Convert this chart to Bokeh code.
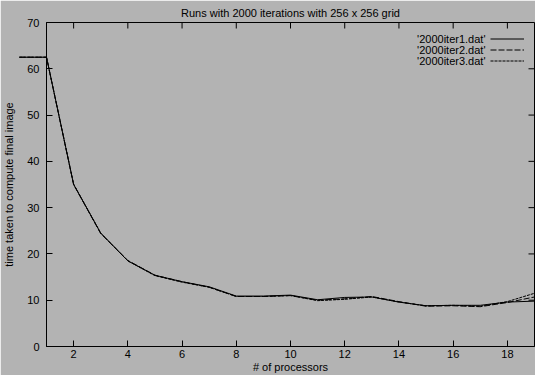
import math
from bokeh.plotting import figure
from bokeh.models import (LinearAxis, FixedTicker, Range1d, Legend, LegendItem,
                          Label, ColumnDataSource)
from bokeh.embed import file_html
from bokeh.resources import INLINE

# ---- data ----
processors = [0, 1, 2, 3, 4, 5, 6, 7, 8, 9, 10, 11, 12, 13, 14, 15, 16, 17, 18, 19]
iter1 = [62.5, 62.5, 35.0, 24.5, 18.5, 15.4, 14.0, 12.9, 10.9, 10.9, 11.1, 10.1, 10.6, 10.7, 9.6, 8.8, 8.9, 8.9, 9.6, 9.8]
iter2 = [62.5, 62.5, 35.0, 24.4, 18.6, 15.4, 14.0, 12.8, 10.8, 10.8, 11.0, 10.0, 10.3, 10.8, 9.7, 8.7, 8.8, 8.6, 9.5, 10.7]
iter3 = [62.5, 62.5, 35.1, 24.5, 18.5, 15.3, 13.9, 12.8, 10.8, 10.8, 11.0, 9.9, 10.2, 10.7, 9.6, 8.8, 8.9, 8.7, 9.7, 11.5]
series_names = ["'2000iter1.dat'", "'2000iter2.dat'", "'2000iter3.dat'"]
x_ticks = [2, 4, 6, 8, 10, 12, 14, 16, 18]
y_ticks = [0, 10, 20, 30, 40, 50, 60, 70]
x_min, x_max = 1, 19
y_min, y_max = 0, 70
title_text = "Runs with 2000 iterations with 256 x 256 grid"
x_label = "# of processors"
y_label = "time taken to compute final image"

BG = "#b3b3b3"
FONT = "Liberation Sans"
FS = "11px"

p = figure(width=535, height=375, output_backend="svg", toolbar_location=None,
           x_range=Range1d(x_min, x_max), y_range=Range1d(y_min, y_max),
           x_axis_type=None, y_axis_type=None,
           background_fill_color=BG, border_fill_color=BG,
           min_border_left=43, min_border_right=1, min_border_top=20, min_border_bottom=0)
p.outline_line_color = "black"
p.outline_line_width = 1
p.grid.visible = False

p.title.text = title_text
p.title.align = "center"
p.title.text_font = FONT
p.title.text_font_size = FS
p.title.text_font_style = "normal"
p.title.text_color = "black"
p.title.standoff = 8
p.title.offset = 0


def style_axis(ax):
    ax.major_tick_in = 6
    ax.major_tick_out = 0
    ax.minor_tick_in = 0
    ax.minor_tick_out = 0
    ax.axis_line_color = "black"
    ax.major_tick_line_color = "black"
    ax.major_label_text_font = FONT
    ax.major_label_text_font_size = FS
    ax.major_label_text_color = "black"
    ax.axis_label_text_font = FONT
    ax.axis_label_text_font_size = FS
    ax.axis_label_text_font_style = "normal"
    ax.axis_label_text_color = "black"
    ax.major_label_standoff = 3
    ax.axis_label_standoff = 0


xb = LinearAxis(ticker=FixedTicker(ticks=x_ticks), axis_label=x_label)
style_axis(xb)
p.add_layout(xb, "below")
yl = LinearAxis(ticker=FixedTicker(ticks=y_ticks), axis_label=y_label)
style_axis(yl)
yl.major_label_standoff = 7
yl.axis_label_standoff = 9
p.add_layout(yl, "left")

# mirrored inward ticks on the top and right border (half of each dash is clipped)
p.scatter(x=[x_max] * len(y_ticks), y=y_ticks, marker="dash", size=12,
          line_color="black", line_width=1)
p.scatter(x=x_ticks, y=[y_max] * len(x_ticks), marker="dash", size=12, angle=math.pi / 2,
          line_color="black", line_width=1)

dashes = ["solid", "6 2", "3 1"]
renderers = []
for ys, dash in zip([iter1, iter2, iter3], dashes):
    src = ColumnDataSource(dict(x=processors, y=ys))
    r = p.line("x", "y", source=src, line_color="black", line_width=1,
               line_dash=dash, level="overlay")
    renderers.append(r)

FH = 318  # approx frame height in px
items = [LegendItem(label="", renderers=[r]) for r in renderers]
legend = Legend(items=items, location=(444, FH - 38), padding=0, margin=0, spacing=0,
                glyph_width=34, glyph_height=11, label_height=11, label_width=0,
                label_standoff=0, border_line_color=None, background_fill_alpha=0,
                label_text_font_size=FS)
p.add_layout(legend, "center")

for i, name in enumerate(series_names):
    p.add_layout(Label(x=439, y=FH - 10 - 11 * i, x_units="screen", y_units="screen",
                       text=name, text_align="right", text_baseline="middle",
                       text_font=FONT, text_font_size=FS, text_color="black"))

open("out.html", "w").write(file_html(p, INLINE))
